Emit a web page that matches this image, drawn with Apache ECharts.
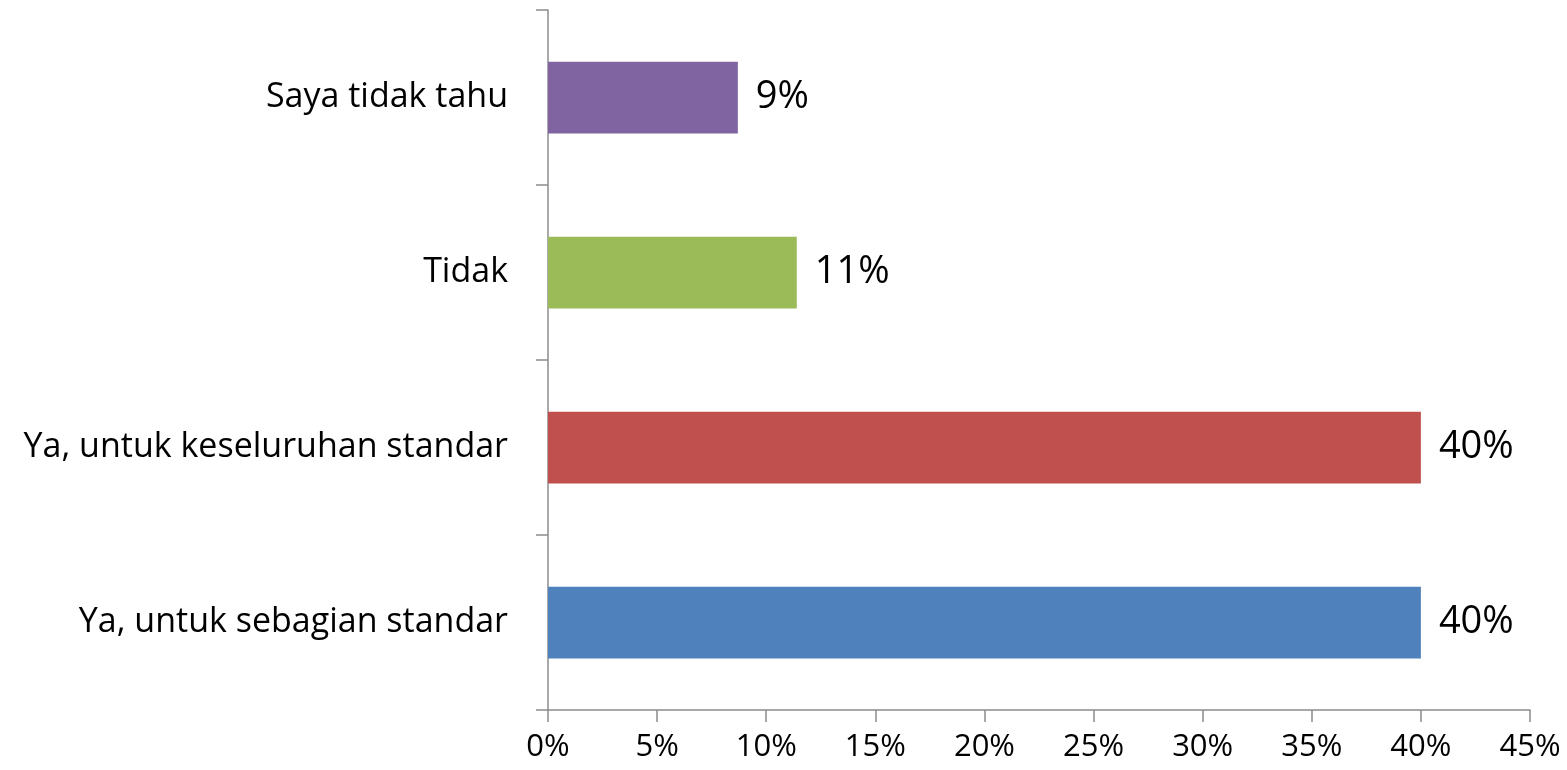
<!DOCTYPE html>
<html>
<head>
<meta charset="utf-8">
<script src="https://cdn.jsdelivr.net/npm/echarts@6/dist/echarts.min.js"></script>
<style>
    html, body { margin: 0; padding: 0; background: #fff; }
    #chart { width: 1567px; height: 770px; }
</style>
</head>
<body>
<div id="chart"></div>
<script>
// data (bottom to top)
var categories = ['Ya, untuk sebagian standar', 'Ya, untuk keseluruhan standar', 'Tidak', 'Saya tidak tahu'];
var values = [40.0, 40.0, 11.4, 8.7];
var barColors = ['#4F81BD', '#C0504D', '#9BBB59', '#8064A2'];
var tickLabels = ['0%', '5%', '10%', '15%', '20%', '25%', '30%', '35%', '40%', '45%'];

var fontName = '"Open Sans", "DejaVu Sans", sans-serif';

var seriesData = [];
for (var i = 0; i < values.length; i++) {
    seriesData.push({ value: values[i], itemStyle: { color: barColors[i] } });
}

var myChart = echarts.init(document.getElementById('chart'));
var option = {
    animation: false,
    grid: {
        left: 548,
        right: 37,
        top: 10,
        bottom: 60,
        containLabel: false
    },
    xAxis: {
        type: 'value',
        min: 0,
        max: 45,
        interval: 5,
        splitLine: { show: false },
        axisLine: { show: true, lineStyle: { color: '#8c8c8c', width: 1.5 } },
        axisTick: { show: true, length: 12, lineStyle: { color: '#8c8c8c', width: 1.5 } },
        axisLabel: {
            color: '#000',
            fontFamily: fontName,
            fontSize: 31,
            margin: 22,
            formatter: function (v) { return tickLabels[Math.round(v / 5)]; }
        }
    },
    yAxis: {
        type: 'category',
        data: categories,
        axisLine: { show: true, lineStyle: { color: '#8c8c8c', width: 1.5 } },
        axisTick: { show: true, length: 12, lineStyle: { color: '#8c8c8c', width: 1.5 } },
        axisLabel: {
            color: '#000',
            fontFamily: fontName,
            fontSize: 34,
            margin: 40
        }
    },
    series: [{
        type: 'bar',
        data: seriesData,
        barWidth: '41%',
        label: {
            show: true,
            position: 'right',
            distance: 18,
            color: '#000',
            fontFamily: fontName,
            fontSize: 38,
            formatter: function (p) { return Math.round(p.value) + '%'; }
        }
    }]
};
myChart.setOption(option);
</script>
</body>
</html>
